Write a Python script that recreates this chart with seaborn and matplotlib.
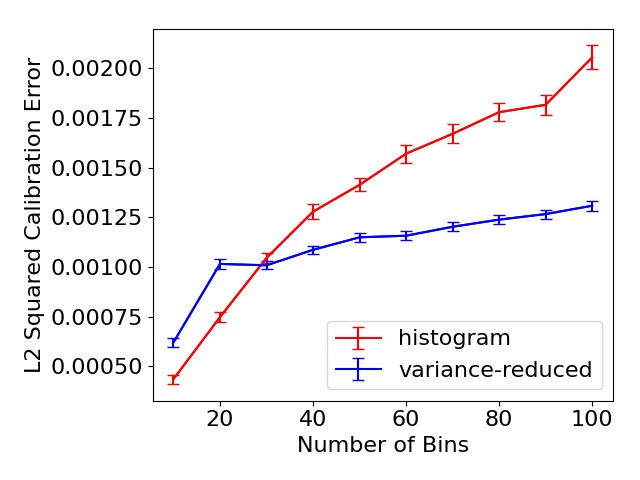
import numpy as np
import pandas as pd
import matplotlib
matplotlib.use("Agg")
import matplotlib.pyplot as plt
import seaborn as sns

## Values
bins = [10, 20, 30, 40, 50, 60, 70, 80, 90, 100]
hist_err = [0.000435, 0.000747, 0.001045, 0.001278, 0.001413, 0.00157, 0.00167, 0.001779, 0.001816, 0.002055]
hist_std = [0.0000225, 0.000024, 0.0000235, 0.0000365, 0.0000325, 0.000045, 0.000048, 0.0000465, 0.00005, 0.00006]
vr_err = [0.00062, 0.001015, 0.001008, 0.001086, 0.001149, 0.001157, 0.001202, 0.001238, 0.001266, 0.001308]
vr_std = [0.000021, 0.000024, 0.00002, 0.00002, 0.0000225, 0.0000225, 0.0000225, 0.0000225, 0.0000225, 0.000025]

df = pd.DataFrame({"bins": bins, "hist": hist_err, "vr": vr_err})

plt.rcParams.update({"font.size": 16})
fig, ax = plt.subplots(figsize=(6.4, 4.8), dpi=100)

## lines through seaborn, error bars on top
sns.lineplot(data=df, x="bins", y="hist", color="red", legend=False, ax=ax)
sns.lineplot(data=df, x="bins", y="vr", color="blue", legend=False, ax=ax)
ax.errorbar(bins, hist_err, yerr=hist_std, color="red", capsize=4, label="histogram")
ax.errorbar(bins, vr_err, yerr=vr_std, color="blue", capsize=4, label="variance-reduced")

ax.set_xlabel("Number of Bins")
ax.set_ylabel("L2 Squared Calibration Error")
ax.legend(loc="lower right")
fig.subplots_adjust(left=0.2383, right=0.958, top=0.9406, bottom=0.1656)
fig.savefig("out.png")
